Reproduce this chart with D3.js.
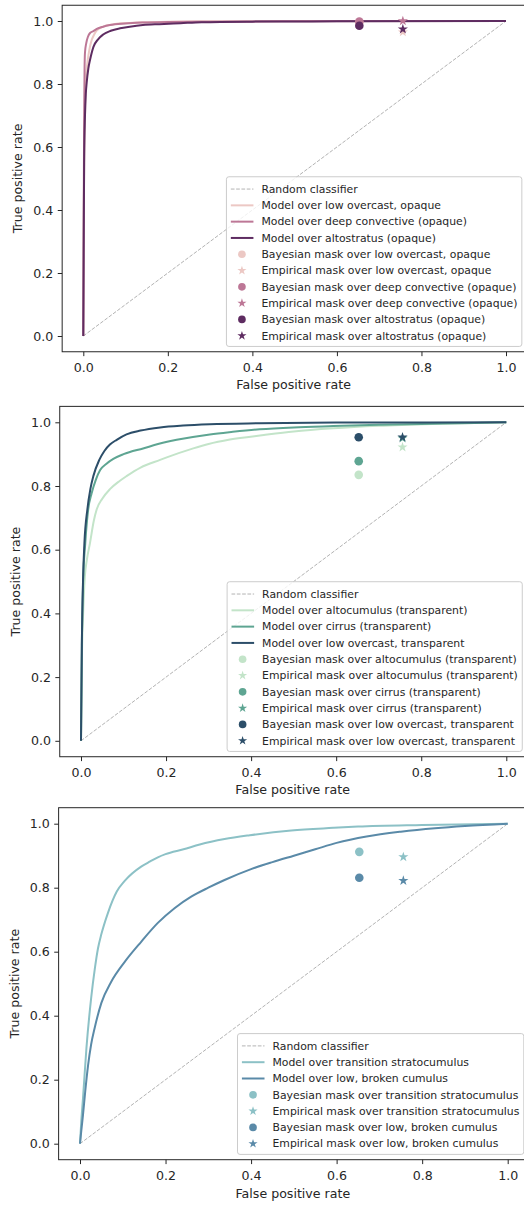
<!DOCTYPE html>
<html><head><meta charset="utf-8">
<script src="https://cdn.jsdelivr.net/npm/d3@7"></script>
<style>
body{margin:0;background:#fff}
svg{display:block}
text{font-family:"DejaVu Sans",sans-serif}
</style>
</head><body>
<svg id="chart" width="524" height="1207"></svg>
<script>
// Axis ticks shared by all three panels
const fprTicks = [0, 0.2, 0.4, 0.6, 0.8, 1.0];
const tprTicks = [0, 0.2, 0.4, 0.6, 0.8, 1.0];

// Mask operating points (false positive rate)
const bayesFpr = 0.653;
const empiricalFpr = 0.756;

// ---- Opaque cloud types: ROC curves as [fpr, tpr]
const rocLowOvercastOpaque = [[0,0],[0.001,0.35],[0.003,0.62],[0.005,0.76],[0.006,0.82],[0.009,0.86],[0.012,0.89],[0.016,0.92],[0.02,0.94],[0.026,0.958],[0.032,0.97],[0.047,0.982],[0.065,0.988],[0.079,0.991],[0.11,0.994],[0.14,0.996],[0.2,0.998],[0.3,0.999],[0.5,1.0],[1,1]];
const rocDeepConvective = [[0,0],[0.001,0.4],[0.002,0.7],[0.003,0.85],[0.004,0.9],[0.007,0.93],[0.011,0.95],[0.016,0.962],[0.024,0.968],[0.032,0.975],[0.047,0.982],[0.063,0.987],[0.1,0.992],[0.14,0.995],[0.2,0.997],[0.3,0.998],[0.5,0.999],[1,1]];
const rocAltostratus = [[0,0],[0.001,0.3],[0.002,0.55],[0.004,0.7],[0.006,0.77],[0.008,0.804],[0.012,0.85],[0.016,0.877],[0.024,0.918],[0.035,0.942],[0.047,0.957],[0.065,0.969],[0.087,0.977],[0.11,0.982],[0.141,0.987],[0.18,0.99],[0.23,0.993],[0.28,0.996],[0.4,0.998],[0.6,0.999],[1,1]];
// Mask tpr values, opaque panel
const bayesOpaque = [0.995, 0.998, 0.985];
const empiricalOpaque = [0.965, 1.0, 0.974];

// ---- Transparent cloud types
const rocAltocumulus = [[0,0],[0.002,0.25],[0.005,0.4],[0.009,0.515],[0.014,0.57],[0.021,0.62],[0.03,0.69],[0.037,0.727],[0.05,0.76],[0.068,0.79],[0.09,0.815],[0.107,0.831],[0.14,0.858],[0.186,0.882],[0.2,0.889],[0.264,0.918],[0.3,0.932],[0.35,0.946],[0.43,0.96],[0.5,0.971],[0.593,0.981],[0.7,0.989],[0.827,0.995],[1,1]];
const rocCirrus = [[0,0],[0.002,0.3],[0.005,0.5],[0.01,0.62],[0.017,0.727],[0.025,0.777],[0.035,0.82],[0.045,0.85],[0.06,0.87],[0.076,0.885],[0.1,0.9],[0.146,0.918],[0.2,0.938],[0.225,0.945],[0.303,0.962],[0.357,0.97],[0.42,0.978],[0.5,0.984],[0.593,0.988],[0.7,0.992],[0.85,0.996],[1,1]];
const rocLowOvercastTransparent = [[0,0],[0.002,0.3],[0.005,0.515],[0.008,0.62],[0.015,0.727],[0.022,0.79],[0.029,0.831],[0.043,0.882],[0.055,0.91],[0.068,0.93],[0.084,0.945],[0.107,0.962],[0.14,0.974],[0.186,0.984],[0.24,0.99],[0.303,0.994],[0.42,0.997],[0.6,0.999],[1,1]];
const bayesTransparent = [0.835, 0.878, 0.953];
const empiricalTransparent = [0.922, 0.95, 0.953];

// ---- Cumulus-type clouds
const rocTransitionSc = [[0,0],[0.003,0.07],[0.007,0.142],[0.015,0.298],[0.026,0.454],[0.035,0.55],[0.042,0.61],[0.05,0.655],[0.065,0.72],[0.086,0.788],[0.105,0.822],[0.143,0.866],[0.164,0.882],[0.182,0.895],[0.2,0.905],[0.242,0.92],[0.28,0.935],[0.338,0.952],[0.397,0.964],[0.494,0.979],[0.592,0.987],[0.65,0.991],[0.8,0.996],[1,1]];
const rocLowBrokenCu = [[0,0],[0.003,0.04],[0.007,0.09],[0.012,0.16],[0.019,0.246],[0.026,0.31],[0.034,0.36],[0.05,0.44],[0.073,0.506],[0.105,0.569],[0.143,0.631],[0.182,0.69],[0.221,0.736],[0.26,0.772],[0.3,0.8],[0.338,0.824],[0.4,0.858],[0.45,0.88],[0.5,0.9],[0.55,0.92],[0.6,0.94],[0.67,0.96],[0.75,0.975],[0.83,0.986],[0.9,0.993],[1,1]];
const bayesCumulus = [0.912, 0.831];
const empiricalCumulus = [0.896, 0.822];

const panels = [
  {
    x0: 83.3, x1: 506, y0: 336, y1: 21, labelY: 385, ylabelX: 18,
    names: ["low overcast, opaque", "deep convective (opaque)", "altostratus (opaque)"],
    colors: ["#ecc8c4", "#bd7796", "#5e2c61"],
    rocs: [rocLowOvercastOpaque, rocDeepConvective, rocAltostratus],
    bayes: bayesOpaque, empirical: empiricalOpaque
  },
  {
    x0: 81, x1: 506.3, y0: 740.8, y1: 422.3, labelY: 790, ylabelX: 16,
    names: ["altocumulus (transparent)", "cirrus (transparent)", "low overcast, transparent"],
    colors: ["#c3e4c9", "#5ea592", "#2c4e69"],
    rocs: [rocAltocumulus, rocCirrus, rocLowOvercastTransparent],
    bayes: bayesTransparent, empirical: empiricalTransparent
  },
  {
    x0: 80, x1: 507.7, y0: 1143.7, y1: 823.7, labelY: 1193.3, ylabelX: 15,
    names: ["transition stratocumulus", "low, broken cumulus"],
    colors: ["#8cc1c6", "#5a8aa8"],
    rocs: [rocTransitionSc, rocLowBrokenCu],
    bayes: bayesCumulus, empirical: empiricalCumulus
  }
];

const svg = d3.select("#chart");
const ink = "#262626";
const circleSym = d3.symbol().type(d3.symbolCircle).size(58);
const starSym = d3.symbol().type(d3.symbolStar).size(32);
const circleLeg = d3.symbol().type(d3.symbolCircle).size(46);
const starLeg = d3.symbol().type(d3.symbolStar).size(26);

function drawPanel(p) {
  const x = d3.scaleLinear().domain([0, 1]).range([p.x0, p.x1]);
  const y = d3.scaleLinear().domain([0, 1]).range([p.y0, p.y1]);
  const left = x(-0.05), right = x(1.05), top = y(1.05), bottom = y(-0.05);
  const g = svg.append("g");
  const line = d3.line().x(d => x(d[0])).y(d => y(d[1]));
  const smooth = d3.line().x(d => x(d[0])).y(d => y(d[1])).curve(d3.curveMonotoneX);

  // random classifier diagonal
  g.append("path").attr("d", line([[0, 0], [1, 1]]))
    .attr("fill", "none").attr("stroke", "#b3b3b3").attr("stroke-width", 1)
    .attr("stroke-dasharray", "3.7,1.6");

  // model ROC curves
  p.rocs.forEach((roc, i) => {
    g.append("path").attr("d", smooth(roc)).attr("fill", "none")
      .attr("stroke", p.colors[i]).attr("stroke-width", 2)
      .attr("stroke-linejoin", "round");
  });

  // mask operating points
  p.names.forEach((n, i) => {
    g.append("path").attr("d", circleSym())
      .attr("transform", `translate(${x(bayesFpr)},${y(p.bayes[i])})`)
      .attr("fill", p.colors[i]);
    g.append("path").attr("d", starSym())
      .attr("transform", `translate(${x(empiricalFpr)},${y(p.empirical[i])})`)
      .attr("fill", p.colors[i]);
  });

  // axes
  const xa = g.append("g").attr("transform", `translate(0,${bottom})`)
    .call(d3.axisBottom(x).tickValues(fprTicks).tickFormat(d3.format(".1f")).tickSize(4.4).tickPadding(6.8));
  const ya = g.append("g").attr("transform", `translate(${left},0)`)
    .call(d3.axisLeft(y).tickValues(tprTicks).tickFormat(d3.format(".1f")).tickSize(4.4).tickPadding(4.4));
  [xa, ya].forEach(a => {
    a.select(".domain").remove();
    a.attr("font-size", 12.6).attr("font-family", "DejaVu Sans").attr("color", ink);
    a.selectAll("line").attr("stroke-width", 1);
  });

  // spines
  g.append("rect").attr("x", left).attr("y", top)
    .attr("width", right - left).attr("height", bottom - top)
    .attr("fill", "none").attr("stroke", ink).attr("stroke-width", 1);

  g.append("text").attr("x", (left + right) / 2 - 1).attr("y", p.labelY)
    .attr("dy", "0.35em").attr("text-anchor", "middle")
    .attr("font-size", 12.6).attr("fill", ink).text("False positive rate");
  g.append("text")
    .attr("transform", `translate(${p.ylabelX},${(top + bottom) / 2}) rotate(-90)`)
    .attr("dy", "0.35em").attr("text-anchor", "middle")
    .attr("font-size", 12.6).attr("fill", ink).text("True positive rate");

  // legend, anchored to the lower right corner of the axes
  const items = [{ kind: "dash", color: "#b3b3b3", label: "Random classifier" }];
  p.names.forEach((n, i) => items.push({ kind: "line", color: p.colors[i], label: "Model over " + n }));
  p.names.forEach((n, i) => {
    items.push({ kind: "circle", color: p.colors[i], label: "Bayesian mask over " + n });
    items.push({ kind: "star", color: p.colors[i], label: "Empirical mask over " + n });
  });
  const rowH = 16.3, fs = 10.85;
  const legRight = right - 5.3;
  const legBottom = bottom - 5.3;
  const lastRow = legBottom - 10.7;
  const firstRow = lastRow - (items.length - 1) * rowH;
  const legTop = firstRow - 12.3;
  const lg = g.append("g");
  const box = lg.append("rect");
  const texts = lg.selectAll("text").data(items).join("text")
    .attr("font-size", fs).attr("fill", ink).attr("dy", "0.35em")
    .attr("y", (d, i) => firstRow + i * rowH)
    .text(d => d.label);
  let maxW = 0;
  texts.each(function () { maxW = Math.max(maxW, this.getComputedTextLength()); });
  const legLeft = legRight - 4.4 - maxW - 35;
  box.attr("x", legLeft).attr("y", legTop).attr("width", legRight - legLeft)
    .attr("height", legBottom - legTop).attr("rx", 2.5)
    .attr("fill", "#fff").attr("fill-opacity", 0.8).attr("stroke", "#cccccc").attr("stroke-width", 1);
  texts.attr("x", legLeft + 35);
  items.forEach((d, i) => {
    const cy = firstRow + i * rowH;
    if (d.kind === "dash" || d.kind === "line") {
      lg.append("line").attr("x1", legLeft + 4.4).attr("x2", legLeft + 27)
        .attr("y1", cy).attr("y2", cy).attr("stroke", d.color)
        .attr("stroke-width", d.kind === "dash" ? 1 : 2)
        .attr("stroke-dasharray", d.kind === "dash" ? "3.7,1.6" : null);
    } else {
      lg.append("path").attr("d", d.kind === "circle" ? circleLeg() : starLeg())
        .attr("transform", `translate(${legLeft + 15.5},${cy})`).attr("fill", d.color);
    }
  });
}

panels.forEach(drawPanel);
</script>
</body></html>
